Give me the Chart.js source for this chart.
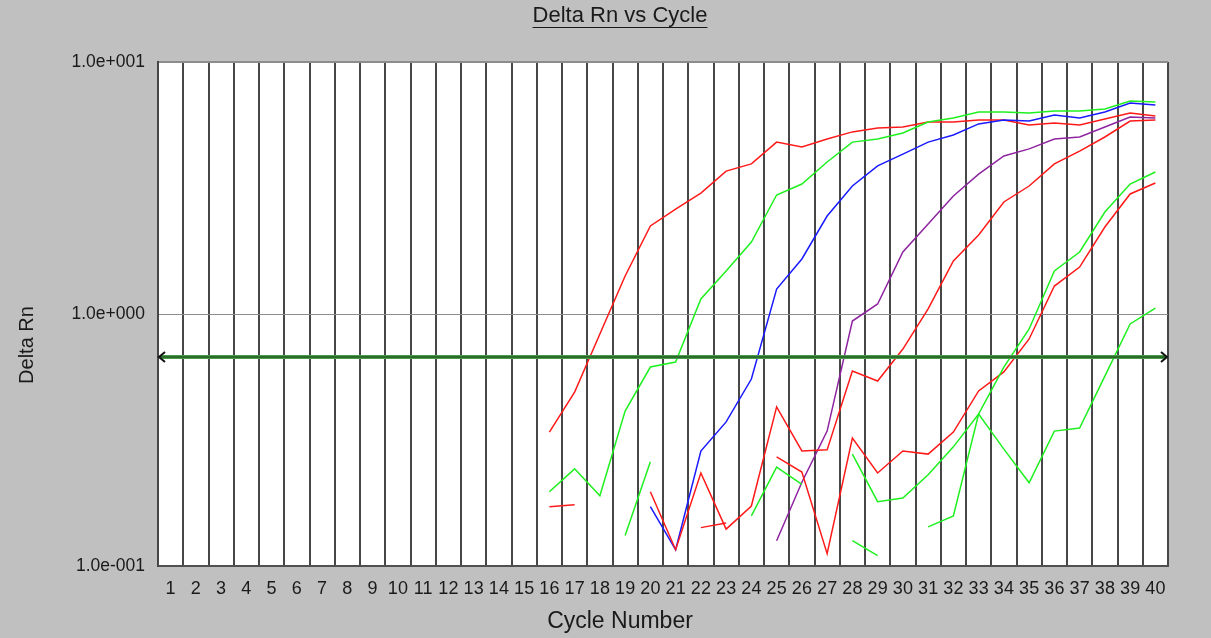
<!DOCTYPE html>
<html>
<head>
<meta charset="utf-8">
<script src="https://cdn.jsdelivr.net/npm/chart.js@4.4.1/dist/chart.umd.min.js"></script>
<style>
  html, body { margin: 0; padding: 0; background: #c0c0c0; }
  #wrap { width: 1211px; height: 638px; }
</style>
</head>
<body>
<div id="wrap"><canvas id="myChart" width="1211" height="638"></canvas></div>
<script>
const _ = null;

const cycles = ['1','2','3','4','5','6','7','8','9','10','11','12','13','14','15','16','17','18','19','20',
  '21','22','23','24','25','26','27','28','29','30','31','32','33','34','35','36','37','38','39','40'];

const yTickLabels = { 0.1: '1.0e-001', 1: '1.0e+000', 10: '1.0e+001' };
const threshold = 0.675;

// amplification curves, one value per cycle (null = not plotted)
const red1 = [_,_,_,_,_,_,_,_,_,_,_,_,_,_,_,
  0.340, 0.490, 0.833, 1.415, 2.235, 2.61, 3.02, 3.69, 3.94, 4.81,
  4.60, 4.95, 5.28, 5.47, 5.52, 5.78, 5.78, 5.89, 5.89, 5.62,
  5.73, 5.62, 5.94, 6.28, 6.11];
const green1 = [_,_,_,_,_,_,_,_,_,_,_,_,_,_,_,
  0.197, 0.243, 0.190, 0.412, 0.616, 0.645, 1.147, 1.481, 1.931, 2.967,
  3.28, 4.01, 4.81, 4.95, 5.23, 5.78, 5.99, 6.33, 6.33, 6.28,
  6.39, 6.39, 6.51, 7.00, 6.94];
const blue1 = [_,_,_,_,_,_,_,_,_,_,_,_,_,_,_,_,_,_,_,
  0.172, 0.116, 0.286, 0.373, 0.552, 1.256, 1.653, 2.448, 3.22, 3.87,
  4.31, 4.81, 5.13, 5.68, 5.89, 5.83, 6.16, 5.99, 6.33, 6.88, 6.75];
const purple1 = [_,_,_,_,_,_,_,_,_,_,_,_,_,_,_,_,_,_,_,_,_,_,_,_,
  0.126, 0.215, 0.343, 0.938, 1.096, 1.762, 2.276, 2.94, 3.59, 4.24,
  4.52, 4.95, 5.04, 5.52, 6.05, 5.99];
const red2 = [_,_,_,_,_,_,_,_,_,_,_,_,_,_,_,_,_,_,_,
  0.197, 0.116, 0.234, 0.140, 0.173, 0.428, 0.286, 0.289, 0.594, 0.542,
  0.726, 1.047, 1.623, 2.058, 2.783, 3.22, 3.94, 4.43, 5.04, 5.83, 5.89];
const red3 = [_,_,_,_,_,_,_,_,_,_,_,_,_,_,_,
  0.172, 0.175, _, _, _, _, 0.142, 0.148, _, 0.271,
  0.236, 0.112, 0.322, 0.234, 0.286, 0.278, 0.340, 0.495, 0.589, 0.796,
  1.291, 1.536, 2.214, 2.994, 3.31];
const green2 = [_,_,_,_,_,_,_,_,_,_,_,_,_,_,_,_,_,_,_,_,_,_,_,_,_,_,_,
  0.126, 0.110, _, 0.143, 0.158, 0.401, 0.616, 0.872, 1.481, 1.762,
  2.54, 3.28, 3.66];
const green3 = [_,_,_,_,_,_,_,_,_,_,_,_,_,_,_,_,_,_,_,_,_,_,_,_,_,_,_,
  0.278, 0.180, 0.186, 0.230, 0.297, 0.401, 0.291, 0.214, 0.343, 0.353,
  0.567, 0.913, 1.056];
const green4 = [_,_,_,_,_,_,_,_,_,_,_,_,_,_,_,_,_,_,
  0.132, 0.259, _, _, _, 0.158, 0.247, 0.211,
  _,_,_,_,_,_,_,_,_,_,_,_,_,_];

const RED = '#ff1a1a', GREEN = '#1ff01f', BLUE = '#1a1aff', PURPLE = '#8e24a0';

function line(data, color) {
  return { data: data, borderColor: color, borderWidth: 1.5, pointRadius: 0, tension: 0, spanGaps: false };
}

// white plot area + titles
const frame = {
  id: 'frame',
  beforeDraw(chart) {
    const { ctx, chartArea: a } = chart;
    ctx.save();
    ctx.fillStyle = '#ffffff';
    ctx.fillRect(a.left, a.top, a.right - a.left, a.bottom - a.top);
    ctx.restore();
  },
  afterDraw(chart) {
    const ctx = chart.ctx;
    ctx.save();
    ctx.fillStyle = '#1a1a1a';
    ctx.strokeStyle = '#1a1a1a';
    ctx.textAlign = 'center';
    ctx.textBaseline = 'middle';
    ctx.font = '22px "Liberation Sans", Arial, sans-serif';
    const t = 'Delta Rn vs Cycle';
    ctx.fillText(t, 620, 16);
    const w = ctx.measureText(t).width;
    ctx.lineWidth = 1;
    ctx.beginPath();
    ctx.moveTo(620 - w / 2, 27.5);
    ctx.lineTo(620 + w / 2, 27.5);
    ctx.stroke();

    ctx.font = '23px "Liberation Sans", Arial, sans-serif';
    ctx.fillText('Cycle Number', 620, 622);

    ctx.translate(27, 345);
    ctx.rotate(-Math.PI / 2);
    ctx.font = '20px "Liberation Sans", Arial, sans-serif';
    ctx.fillText('Delta Rn', 0, 0);
    ctx.restore();
  }
};

// threshold line with arrow heads
const thresholdLine = {
  id: 'thresholdLine',
  afterDatasetsDraw(chart) {
    const { ctx, chartArea: a, scales } = chart;
    const y = scales.y.getPixelForValue(threshold);
    ctx.save();
    ctx.strokeStyle = '#4c9a4c';
    ctx.lineWidth = 4;
    ctx.beginPath();
    ctx.moveTo(a.left + 2, y);
    ctx.lineTo(a.right - 2, y);
    ctx.stroke();
    ctx.strokeStyle = '#1f5c1f';
    ctx.lineWidth = 1.5;
    ctx.beginPath();
    ctx.moveTo(a.left + 2, y);
    ctx.lineTo(a.right - 2, y);
    ctx.stroke();
    ctx.strokeStyle = '#111';
    ctx.lineWidth = 2;
    ctx.beginPath();
    ctx.moveTo(a.left + 7, y - 5);
    ctx.lineTo(a.left + 1, y);
    ctx.lineTo(a.left + 7, y + 5);
    ctx.moveTo(a.right - 7, y - 5);
    ctx.lineTo(a.right - 1, y);
    ctx.lineTo(a.right - 7, y + 5);
    ctx.stroke();
    ctx.restore();
  }
};

const ctx = document.getElementById('myChart');

new Chart(ctx, {
  type: 'line',
  data: {
    labels: cycles,
    datasets: [
      line(green4, GREEN),
      line(green3, GREEN),
      line(green2, GREEN),
      line(red3, RED),
      line(red2, RED),
      line(purple1, PURPLE),
      line(blue1, BLUE),
      line(green1, GREEN),
      line(red1, RED)
    ]
  },
  options: {
    responsive: false,
    animation: false,
    layout: { padding: { top: 62, right: 43, left: 0, bottom: 0 } },
    plugins: {
      legend: { display: false },
      tooltip: { enabled: false },
      title: { display: false }
    },
    scales: {
      x: {
        offset: true,
        afterFit: (s) => { s.height = 72; },
        grid: {
          offset: true,
          drawTicks: false,
          color: '#474747',
          lineWidth: 2
        },
        border: { color: '#505050', width: 2 },
        ticks: {
          autoSkip: false,
          maxRotation: 0,
          padding: 12,
          color: '#1a1a1a',
          font: { family: '"Liberation Sans", Arial, sans-serif', size: 18 }
        }
      },
      y: {
        type: 'logarithmic',
        min: 0.1,
        max: 10,
        afterFit: (s) => { s.width = 158; },
        grid: {
          drawTicks: false,
          color: (c) => (c.tick && (c.tick.value === 1 || c.tick.value === 10)) ? '#8c8c8c' : 'rgba(0,0,0,0)',
          lineWidth: (c) => (c.tick && c.tick.value === 10) ? 2 : 1
        },
        border: { color: '#474747', width: 2 },
        ticks: {
          padding: 13,
          autoSkip: false,
          color: '#1a1a1a',
          font: { family: '"Liberation Sans", Arial, sans-serif', size: 17.5 },
          callback: (value) => yTickLabels[value] || ''
        }
      }
    }
  },
  plugins: [frame, thresholdLine]
});
</script>
</body>
</html>
